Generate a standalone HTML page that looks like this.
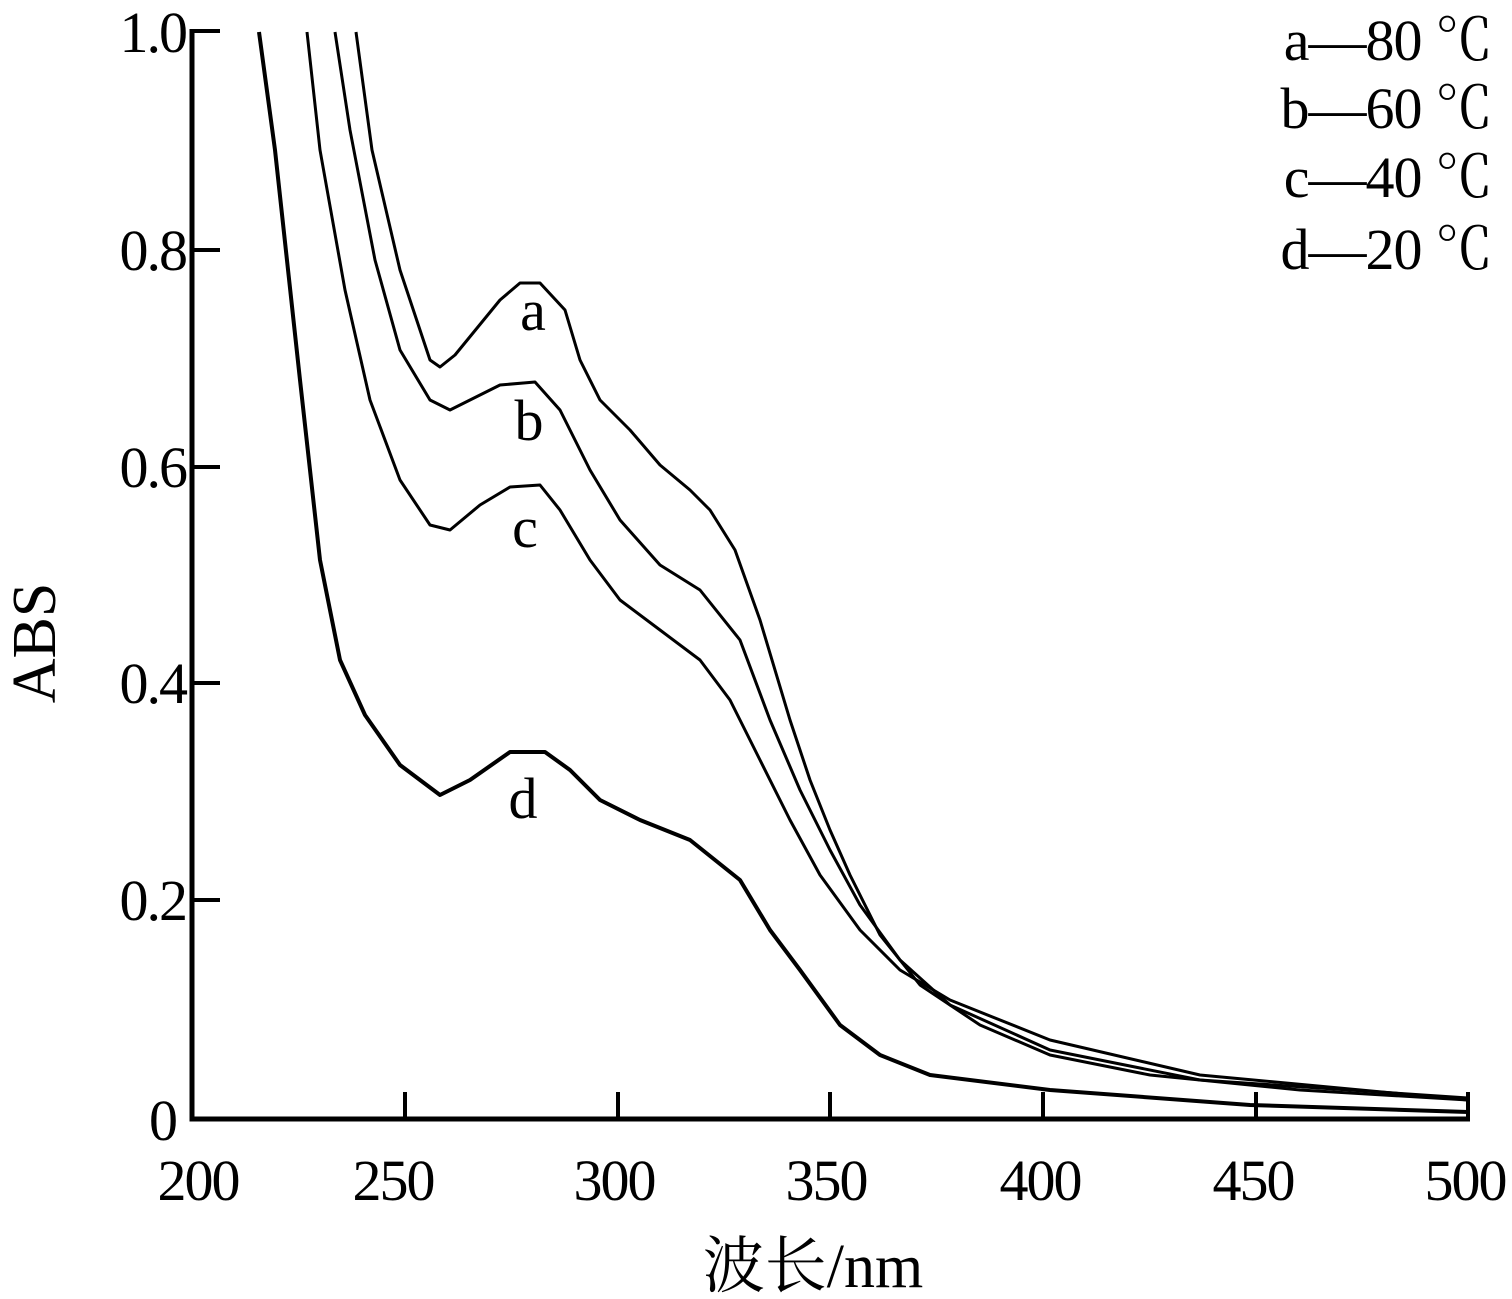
<!DOCTYPE html>
<html><head><meta charset="utf-8"><style>
body{margin:0;background:#fff}
svg{display:block}
text{font-family:"Liberation Serif","Noto Serif CJK SC",serif;fill:#000}
</style></head><body>
<svg width="1512" height="1299" viewBox="0 0 1512 1299" xmlns="http://www.w3.org/2000/svg">
<g stroke="#000" fill="none">
<path d="M192,29 V1119 H1470" stroke-width="5"/>
<g stroke-width="4">
<path d="M192,31 H220 M192,250 H220 M192,467 H220 M192,683 H220 M192,900 H220"/>
<path d="M405,1117 V1092 M618,1117 V1092 M830,1117 V1092 M1043,1117 V1092 M1256,1117 V1092 M1468,1117 V1092"/>
</g>
<g stroke-width="3" stroke-linejoin="round">
<path d="M356,32 L372,150 L400,270 L430,360 L440,367 L455,355 L500,300 L520,283 L540,283 L565,310 L580,360 L600,400 L630,430 L660,465 L690,490 L710,510 L735,550 L760,620 L790,720 L810,780 L830,830 L850,875 L880,935 L920,985 L980,1025 L1050,1055 L1150,1075 L1300,1090 L1468,1100"/>
<path d="M335,32 L350,130 L375,260 L400,350 L430,400 L450,410 L470,400 L500,385 L535,382 L560,410 L590,470 L620,520 L660,565 L700,590 L740,640 L770,720 L800,790 L830,850 L860,905 L900,960 L950,1005 L1050,1050 L1200,1080 L1468,1098"/>
<path d="M307,32 L320,150 L345,290 L370,400 L400,480 L430,525 L450,530 L480,505 L510,487 L540,485 L560,510 L590,560 L620,600 L660,630 L700,660 L730,700 L760,760 L790,820 L820,875 L860,930 L900,970 L950,1000 L1050,1040 L1200,1075 L1468,1100"/>
<path d="M259,32 L275,150 L300,380 L320,560 L340,660 L365,715 L400,765 L440,795 L470,780 L510,752 L545,752 L570,770 L600,800 L640,820 L690,840 L740,880 L770,930 L800,970 L840,1025 L880,1055 L930,1075 L1050,1090 L1250,1105 L1468,1112" stroke-width="4"/>
</g>
</g>
<g font-size="58" text-anchor="end" letter-spacing="-2">
<text x="186" y="52">1.0</text>
<text x="186" y="270">0.8</text>
<text x="186" y="487">0.6</text>
<text x="186" y="703">0.4</text>
<text x="186" y="920">0.2</text>
<text x="176" y="1140">0</text>
</g>
<g font-size="58" text-anchor="middle" letter-spacing="-2">
<text x="198" y="1200">200</text>
<text x="393" y="1200">250</text>
<text x="614" y="1200">300</text>
<text x="826" y="1200">350</text>
<text x="1040" y="1200">400</text>
<text x="1253" y="1200">450</text>
<text x="1465" y="1200">500</text>
<text x="813" y="1287" font-size="62" letter-spacing="0">波长/nm</text>
<text transform="translate(55,643) rotate(-90)" font-size="62" letter-spacing="0">ABS</text>
<text x="532" y="330">a</text>
<text x="528" y="440">b</text>
<text x="524" y="547">c</text>
<text x="522" y="818">d</text>
</g>
<g font-size="58" text-anchor="end" letter-spacing="-1">
<text x="1492" y="60">a—80 ℃</text>
<text x="1492" y="128">b—60 ℃</text>
<text x="1492" y="197">c—40 ℃</text>
<text x="1492" y="269">d—20 ℃</text>
</g>
</svg>
</body></html>
